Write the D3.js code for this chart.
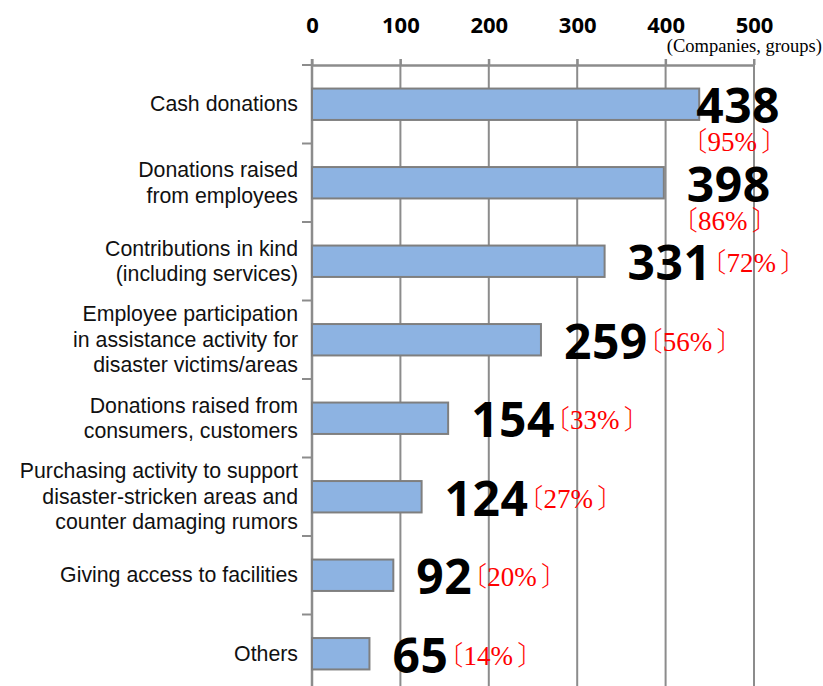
<!DOCTYPE html>
<html>
<head>
<meta charset="utf-8">
<script src="https://cdn.jsdelivr.net/npm/d3@7"></script>
<style>
  body { margin: 0; background: #fff; }
</style>
</head>
<body>
<script>
const categories = [
  "Cash donations",
  "Donations raised\nfrom employees",
  "Contributions in kind\n(including services)",
  "Employee participation\nin assistance activity for\ndisaster victims/areas",
  "Donations raised from\nconsumers, customers",
  "Purchasing activity to support\ndisaster-stricken areas and\ncounter damaging rumors",
  "Giving access to facilities",
  "Others"
];
const counts = [438, 398, 331, 259, 154, 124, 92, 65];
const shares = [95, 86, 72, 56, 33, 27, 20, 14];
const xTicks = [0, 100, 200, 300, 400, 500];
const unitLabel = "(Companies, groups)";

const width = 823;
const height = 686;
const gridColor = "#8c8c8c";

const svg = d3.select("body").append("svg")
  .attr("width", width)
  .attr("height", height);

const x = d3.scaleLinear().domain([0, 500]).range([312, 754]);
const y = d3.scaleBand().domain(categories).range([65, 693])
  .paddingInner(0.6).paddingOuter(0.3);

const top0 = 65;

// grid lines
svg.append("g").selectAll("line")
  .data(xTicks)
  .join("line")
  .attr("x1", d => x(d)).attr("x2", d => x(d))
  .attr("y1", top0 - 6).attr("y2", height + 10)
  .attr("stroke", gridColor)
  .attr("stroke-width", d => d === 0 ? 2.5 : 2);

// top axis
const xAxis = svg.append("g")
  .attr("transform", `translate(0,${top0})`)
  .call(d3.axisTop(x).tickValues(xTicks).tickSize(6).tickSizeOuter(0).tickPadding(26));
xAxis.select(".domain").attr("stroke", gridColor).attr("stroke-width", 2.5);
xAxis.selectAll(".tick line").attr("stroke", gridColor).attr("stroke-width", 2);
xAxis.selectAll(".tick text")
  .attr("fill", "#000")
  .style("font-family", "'Noto Sans', sans-serif")
  .style("font-weight", 700)
  .style("font-size", "22px");

// left ticks at band boundaries
const edge = y.step() * y.paddingOuter();
const bounds = categories.map(c => y(c) - edge).concat([y(categories[categories.length - 1]) + y.bandwidth() + edge]);
svg.append("g").selectAll("line")
  .data(bounds)
  .join("line")
  .attr("x1", x(0) - 10).attr("x2", x(0))
  .attr("y1", d => d).attr("y2", d => d)
  .attr("stroke", gridColor)
  .attr("stroke-width", 2);

svg.append("text")
  .attr("x", 822).attr("y", 52)
  .attr("text-anchor", "end")
  .style("font-family", "'Liberation Serif', serif")
  .style("font-size", "18.5px")
  .text(unitLabel);

// bars
svg.append("g").selectAll("rect")
  .data(counts)
  .join("rect")
  .attr("x", x(0))
  .attr("y", (d, i) => y(categories[i]))
  .attr("width", d => x(d) - x(0))
  .attr("height", y.bandwidth())
  .attr("fill", "#8db3e2")
  .attr("stroke", "#7f7f7f")
  .attr("stroke-width", 2);

// category labels
const catLabels = svg.append("g").selectAll("text")
  .data(categories)
  .join("text")
  .attr("x", x(0) - 14)
  .attr("text-anchor", "end")
  .style("font-family", "'Liberation Sans', Arial, sans-serif")
  .style("font-size", "21.3px")
  .attr("fill", "#111");
catLabels.each(function (d) {
  const lines = d.split("\n");
  const cy = y(d) + y.bandwidth() / 2;
  const lh = 25.5;
  d3.select(this).selectAll("tspan")
    .data(lines)
    .join("tspan")
    .attr("x", x(0) - 14)
    .attr("y", (l, j) => cy + (j - (lines.length - 1) / 2) * lh + 7)
    .text(l => l);
});

// value labels
const cjk = "'Noto Sans CJK JP', sans-serif";
const serif = "'Liberation Serif', serif";
const vals = svg.append("g");
counts.forEach((v, i) => {
  const cy = y(categories[i]) + y.bandwidth() / 2;
  const x0 = i === 0 ? x(v) - 3 : x(v) + 23;
  const num = vals.append("text")
    .attr("x", x0).attr("y", cy + 19)
    .style("font-family", "'Noto Sans', sans-serif")
    .style("font-weight", 700)
    .style("font-size", "48px")
    .style("letter-spacing", "0.5px")
    .attr("fill", "#000")
    .text(v);
  const w = num.node().getComputedTextLength();
  const pct = vals.append("text")
    .style("font-size", "27px")
    .attr("fill", "#ff0000");
  pct.append("tspan").style("font-family", cjk).style("font-weight", 200).text("〔");
  pct.append("tspan").style("font-family", serif).text(`${shares[i]}%`);
  pct.append("tspan").attr("dx", 4).style("font-family", cjk).style("font-weight", 200).text("〕");
  if (i < 2) {
    pct.attr("x", x0 + w / 2 - 4).attr("y", cy + 47).attr("text-anchor", "middle");
  } else {
    pct.attr("x", x0 + w - 12).attr("y", cy + 11);
  }
});
</script>
</body>
</html>
